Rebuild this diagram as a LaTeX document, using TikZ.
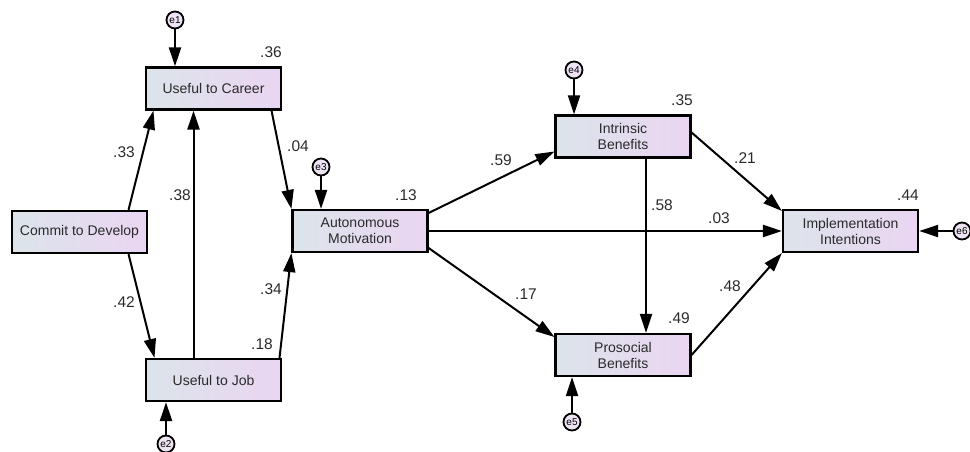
\documentclass[tikz,border=0pt]{standalone}
\usepackage{fontspec}
\setmainfont{Liberation Sans}
\usetikzlibrary{arrows.meta}
\definecolor{boxL}{HTML}{DCE4EA}
\definecolor{boxR}{HTML}{EAD5F2}
\definecolor{errfill}{HTML}{EEE3F3}
\definecolor{txt}{HTML}{2A2A2A}
\tikzset{
  var/.style={draw=black, line width=2.2pt, left color=boxL, right color=boxR,
    minimum width=135pt, minimum height=42pt, inner sep=0pt, align=center,
    text=txt, font=\fontsize{14}{16}\selectfont},
  err/.style={draw=black, line width=1.8pt, fill=errfill,
    circle, minimum size=17pt, inner sep=0pt, font=\fontsize{10}{10}\selectfont, text=black},
  arr/.style={line width=2pt, -{Triangle[length=19pt,width=12pt]}},
  coef/.style={font=\fontsize{15.5}{16}\selectfont, text=txt, inner sep=0pt}
}
\begin{document}
\begin{tikzpicture}[x=1pt,y=-1pt]
\useasboundingbox (0,0) rectangle (970,452);
% variables
\node[var] (career) at (213.5,88.5) {Useful to Career};
\node[var] (commit) at (79.5,232) {Commit to Develop};
\node[var] (job) at (213.5,380) {Useful to Job};
\node[var] (auto) at (360,231) {Autonomous\\Motivation};
\node[var] (intr) at (623,136.5) {Intrinsic\\Benefits};
\node[var] (pros) at (623,355) {Prosocial\\Benefits};
\node[var] (impl) at (850.5,231) {Implementation\\Intentions};
% errors
\node[err] (e1) at (175,20) {e1};
\node[err] (e2) at (166,444) {e2};
\node[err] (e3) at (321,167) {e3};
\node[err] (e4) at (574,70) {e4};
\node[err] (e5) at (572,422) {e5};
\node[err] (e6) at (962,231) {e6};
% error arrows
\draw[arr] (e1) -- (e1 |- career.north);
\draw[arr] (e2) -- (e2 |- job.south);
\draw[arr] (e3) -- (e3 |- auto.north);
\draw[arr] (e4) -- (e4 |- intr.north);
\draw[arr] (e5) -- (e5 |- pros.south);
\draw[arr] (e6) -- (impl.east);
% paths
\draw[arr] ([xshift=49pt]commit.north) -- ([xshift=-60pt]career.south);
\draw[arr] ([xshift=49pt]commit.south) -- ([xshift=-59pt]job.north);
\draw[arr] ([xshift=-20pt]job.north) -- ([xshift=-20pt]career.south);
\draw[arr] ([xshift=58pt]career.south) -- (auto.north west);
\draw[arr] ([xshift=66pt]job.north) -- (auto.south west);
\draw[arr] ([yshift=18pt]auto.east) -- ([yshift=-15pt]intr.west);
\draw[arr] (auto.east) -- (impl.west);
\draw[arr] ([yshift=-17pt]auto.east) -- ([yshift=18pt]pros.west);
\draw[arr] ([yshift=4pt]intr.east) -- ([yshift=20pt]impl.west);
\draw[arr] ([xshift=23pt]intr.south) -- ([xshift=23pt]pros.north);
\draw[arr] (pros.east) -- (impl.south west);
% squared multiple correlations
\node[coef] (r1) at (271,52) {.36};
\node[coef] (r2) at (406,195) {.13};
\node[coef] (r3) at (682,100) {.35};
\node[coef] (r4) at (679,318) {.49};
\node[coef] (r5) at (908,195) {.44};
\node[coef] (r6) at (262,344) {.18};
% path coefficients
\node[coef] (c1) at (124,152) {.33};
\node[coef] (c2) at (180,195) {.38};
\node[coef] (c3) at (124,302) {.42};
\node[coef] (c4) at (298,146) {.04};
\node[coef] (c5) at (271,289) {.34};
\node[coef] (c6) at (501,160) {.59};
\node[coef] (c7) at (662,205) {.58};
\node[coef] (c8) at (719,218) {.03};
\node[coef] (c9) at (526,294) {.17};
\node[coef] (c10) at (745,158) {.21};
\node[coef] (c11) at (730,286) {.48};
\end{tikzpicture}
\end{document}
